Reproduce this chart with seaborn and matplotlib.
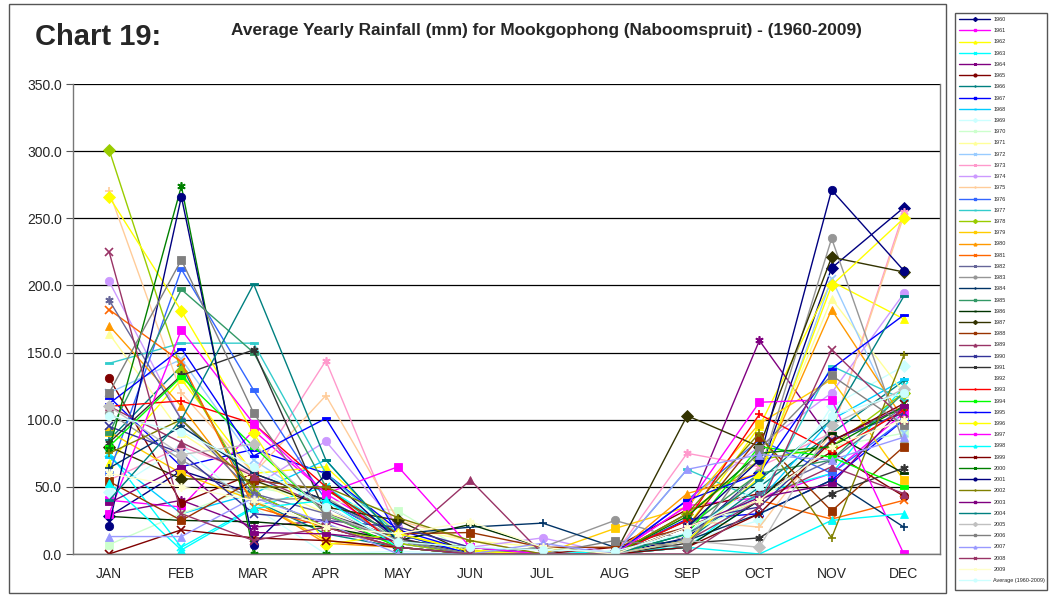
import numpy as np
import pandas as pd
import matplotlib
matplotlib.use("Agg")
import matplotlib.pyplot as plt
from matplotlib.lines import Line2D
from matplotlib.patches import Rectangle
import seaborn as sns

months = ["JAN", "FEB", "MAR", "APR", "MAY", "JUN", "JUL", "AUG", "SEP", "OCT", "NOV", "DEC"]
yticks = [0, 50, 100, 150, 200, 250, 300, 350]

nan = np.nan
y1960 = [28, 62, 45, 20, 5, 0, 0, 0, 12, 60, 213, 258]
y1961 = [40, 35, 92, 45, 12, 0, 0, 0, 36, 42, 60, 105]
y1962 = [68, 130, 60, 65, 15, 3, 0, 0, 20, 95, 203, 175]
y1963 = [75, 5, 35, 50, 15, 0, 0, 2, 5, 45, 60, 125]
y1964 = [30, 40, 20, 25, 8, 0, 0, 0, 30, 159, 84, 110]
y1965 = [131, 38, 60, 40, 10, 5, 0, 5, 33, 45, 76, 43]
y1966 = [85, 140, 40, 15, 5, 0, 5, 0, 10, 50, 90, 129]
y1967 = [117, 65, 78, 60, 18, 2, 0, 0, 26, 30, 55, 100]
y1968 = [72, 30, 45, 70, 10, 0, 0, 0, 5, 40, 100, 130]
y1969 = [46, 80, 35, 0, 2, 0, 0, 0, 10, 25, 110, 140]
y1970 = [7, 30, 50, 40, 32, 0, 0, 0, 15, 40, 80, 90]
y1971 = [164, 90, 55, 30, 20, 10, 5, 0, 20, 60, 190, 120]
y1972 = [120, 145, 70, 35, 8, 0, 0, 0, 15, 55, 205, 90]
y1973 = [55, 80, 60, 144, 15, 0, 0, 0, 75, 65, 90, 255]
y1974 = [203, 100, 50, 84, 20, 5, 12, 0, 40, 80, 120, 194]
y1975 = [270, 120, 60, 118, 25, 10, 0, 0, 25, 20, 90, 252]
y1976 = [60, 212, 122, 40, 10, 0, 0, 0, 40, 85, 60, 100]
y1977 = [142, 157, 157, 60, 15, 0, 0, 0, 63, 40, 140, 115]
y1978 = [301, 136, 45, 20, 8, 0, 0, 0, 30, 70, 80, 120]
y1979 = [91, 60, 40, 10, 5, 0, 0, 19, 35, 97, 130, 55]
y1980 = [170, 110, 40, 8, 5, 0, 0, 0, 45, 60, 182, 100]
y1981 = [182, 143, 35, 20, 5, 0, 0, 0, 20, 40, 26, 40]
y1982 = [189, 100, 45, 30, 10, 0, 0, 0, 15, 45, 70, 110]
y1983 = [105, 70, 40, 42, 10, 0, 5, 25, 10, 60, 235, 82]
y1984 = [64, 95, 60, 40, 15, 20, 23, 5, 10, 30, 55, 20]
y1985 = [90, 197, 150, 50, 10, 5, 0, 0, 20, 60, 70, 120]
y1986 = [28, 25, 24, 20, 10, 22, 5, 0, 5, 40, 90, 60]
y1987 = [80, 56, 55, 35, 25, 0, 0, 0, 103, 80, 221, 210]
y1988 = [54, 25, 55, 48, 15, 16, 5, 5, 20, 87, 32, 80]
y1989 = [110, 83, 58, 35, 8, 55, 0, 0, 10, 40, 65, 45]
y1990 = [95, 75, 30, 25, 20, 5, 0, 0, 25, 35, 85, 105]
y1991 = [83, 133, 152, 30, 12, 0, 0, 0, 8, 12, 45, 64]
y1992 = [nan] * 12
y1993 = [110, 114, 97, 50, 5, 0, 0, 0, 25, 104, 76, 107]
y1994 = [80, 132, 80, 30, 5, 0, 0, 0, 15, 80, 72, 50]
y1995 = [112, 153, 73, 101, 15, 0, 0, 0, 40, 60, 138, 178]
y1996 = [266, 181, 90, 7, 15, 2, 0, 0, 10, 57, 200, 250]
y1997 = [30, 167, 97, 45, 65, 5, 0, 0, 36, 113, 115, 0]
y1998 = [53, 3, 34, 40, 5, 0, 0, 0, 5, 0, 25, 30]
y1999 = [0, 18, 12, 10, 5, 0, 0, 0, 5, 30, 84, 112]
y2000 = [78, 274, 0, 0, 0, 0, 0, 0, 28, 75, 80, 110]
y2001 = [21, 266, 7, 59, 10, 0, 0, 0, 20, 70, 271, 211]
y2002 = [75, 100, 50, 50, 27, 10, 0, 0, 30, 90, 12, 148]
y2003 = [38, 65, 16, 15, 10, 0, 0, 0, 20, 42, 52, 110]
y2004 = [40, 100, 201, 70, 10, 0, 0, 0, 15, 55, 100, 192]
y2005 = [110, 74, 82, 30, 10, 0, 0, 0, 10, 5, 96, 123]
y2006 = [120, 219, 105, 28, 10, 0, 0, 10, 5, 78, 133, 96]
y2007 = [13, 13, 42, 23, 0, 0, 8, 0, 63, 74, 70, 87]
y2008 = [225, 30, 10, 20, 5, 0, 0, 0, 0, 35, 152, 100]
y2009 = [60, 50, 40, 20, 15, 24, 5, 0, 20, 40, 80, 100]
average = [103, 91, 65, 35, 9, 5, 3, 2, 16, 51, 103, 120]

series_labels = [str(y) for y in range(1960, 2010)] + ["Average (1960-2009)"]
series_values = [y1960, y1961, y1962, y1963, y1964, y1965, y1966, y1967, y1968, y1969,
                 y1970, y1971, y1972, y1973, y1974, y1975, y1976, y1977, y1978, y1979,
                 y1980, y1981, y1982, y1983, y1984, y1985, y1986, y1987, y1988, y1989,
                 y1990, y1991, y1992, y1993, y1994, y1995, y1996, y1997, y1998, y1999,
                 y2000, y2001, y2002, y2003, y2004, y2005, y2006, y2007, y2008, y2009,
                 average]

colors = ["#000080", "#FF00FF", "#FFFF00", "#00FFFF", "#800080", "#800000", "#008080", "#0000FF",
          "#00CCFF", "#CCFFFF", "#CCFFCC", "#FFFF99", "#99CCFF", "#FF99CC", "#CC99FF", "#FFCC99",
          "#3366FF", "#33CCCC", "#99CC00", "#FFCC00", "#FF9900", "#FF6600", "#666699", "#969696",
          "#003366", "#339966", "#003300", "#333300", "#993300", "#993366", "#333399", "#333333",
          "#FFFFFF", "#FF0000", "#00FF00", "#0000FF", "#FFFF00", "#FF00FF", "#00FFFF", "#800000",
          "#008000", "#000080", "#808000", "#800080", "#008080", "#C0C0C0", "#808080", "#9999FF",
          "#993366", "#FFFFCC", "#CCFFFF"]

short_bar = [(-1, -0.45), (1, -0.45), (1, 0.45), (-1, 0.45), (-1, -0.45)]
long_bar = [(-1, -0.3), (1, -0.3), (1, 0.3), (-1, 0.3), (-1, -0.3)]
marker_cycle = ["D", "s", "^", "x", (6, 2, 0), "o", "+", short_bar, long_bar]

sns.set_theme(style="white")
plt.rcParams["font.family"] = ["Liberation Sans", "DejaVu Sans"]

W, H = 1050, 597
fig = plt.figure(figsize=(W / 100, H / 100), dpi=100)
fig.patch.set_facecolor("white")

def fx(px):
    return px / W

def fy(py):
    return 1 - py / H

# outer chart frame and legend frame
fig.patches.append(Rectangle((fx(9), fy(593)), fx(946) - fx(9), fy(4) - fy(593),
                             transform=fig.transFigure, fill=False, edgecolor="#555555", lw=1.0))
fig.patches.append(Rectangle((fx(955), fy(590)), fx(1047) - fx(955), fy(13) - fy(590),
                             transform=fig.transFigure, fill=False, edgecolor="#555555", lw=1.0))

ax = fig.add_axes([fx(73), fy(554), fx(940) - fx(73), fy(84) - fy(554)])
ax.set_facecolor("white")

xpos = np.arange(len(months))
for i, (lab, vals) in enumerate(zip(series_labels, series_values)):
    arr = np.array(vals, dtype=float)
    if np.all(np.isnan(arr)):
        continue
    m = marker_cycle[i % 9]
    lw_m = 1.2 if m in ("x", "+") or isinstance(m, tuple) else 0.6
    df = pd.DataFrame({"month": xpos, "rain": arr})
    sns.lineplot(data=df, x="month", y="rain", ax=ax, color=colors[i], linewidth=1.0,
                 marker=m, markersize=6, markeredgecolor=colors[i], markerfacecolor=colors[i],
                 markeredgewidth=lw_m, sort=False, legend=False, errorbar=None)

ax.set_xlim(-0.5, 11.5)
ax.set_ylim(0, 350)
ax.set_yticks(yticks)
ax.set_yticklabels([f"{v:.1f}" for v in yticks], fontsize=10)
ax.set_xticks(xpos)
ax.set_xticklabels(months, fontsize=10)
ax.set_xticks(np.arange(-0.5, 12.0, 1.0), minor=True)
ax.tick_params(axis="x", which="major", length=0, pad=9)
ax.tick_params(axis="x", which="minor", length=5, width=0.8, color="#555555", direction="out")
ax.tick_params(axis="y", which="major", length=5, width=0.8, color="#555555", direction="out", pad=3, left=True)
ax.set_xlabel("")
ax.set_ylabel("")
ax.grid(axis="y", color="black", lw=0.9)
ax.grid(axis="x", visible=False)
for s in ["top"]:
    ax.spines[s].set_visible(False)
for s in ["left", "bottom", "right"]:
    ax.spines[s].set_color("#777777")
    ax.spines[s].set_linewidth(1.0)

fig.text(fx(35), fy(37), "Chart 19:", fontsize=21, fontweight="bold", ha="left", va="center")
fig.text(fx(546), fy(31), "Average Yearly Rainfall (mm) for Mookgophong (Naboomspruit) - (1960-2009)",
         fontsize=12.4, fontweight="bold", ha="center", va="center")

handles = []
for i, lab in enumerate(series_labels):
    handles.append(Line2D([], [], color=colors[i], lw=1.0, marker=marker_cycle[i % 9],
                          markersize=2, markerfacecolor=colors[i], markeredgecolor=colors[i]))
fig.legend(handles, series_labels, loc="upper left", bbox_to_anchor=(fx(959), fy(17)),
           frameon=False, fontsize=4, handlelength=5.6, handletextpad=0.6,
           labelspacing=1.12, borderpad=0, borderaxespad=0)

fig.savefig("out.png", dpi=100, facecolor="white")
